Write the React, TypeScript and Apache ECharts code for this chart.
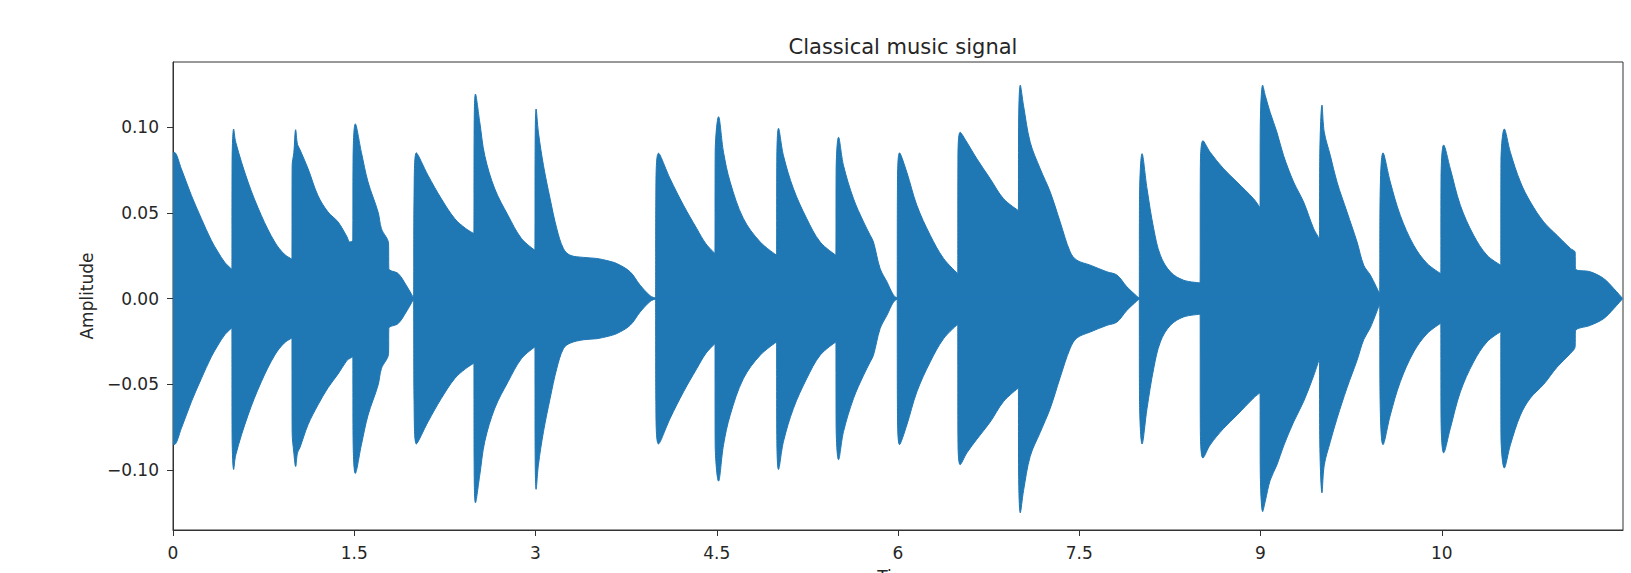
import React, { useEffect, useRef } from "react";
import * as echarts from "echarts";

// Tick positions and the labels printed under them (as in the reference)
const xTickValues = [0, 1.5, 3, 4.5, 6, 7.5, 9, 10.5];
const xTickLabels = ["0", "1.5", "3", "4.5", "6", "7.5", "9", "10"];
const yTickValues = [-0.1, -0.05, 0, 0.05, 0.1];
const yTickLabels = ["\u22120.10", "\u22120.05", "0.00", "0.05", "0.10"];

// Signal envelope: [time, upper amplitude, lower amplitude]
const signalEnvelope: [number, number, number][] = [
  // note 1
  [0, 0.085, -0.085], [0.01, 0.0853, -0.0852], [0.069, 0.0757, -0.0757], [0.152, 0.0602, -0.0602],
  [0.235, 0.0466, -0.0466], [0.317, 0.034, -0.034], [0.372, 0.0272, -0.0272], [0.43, 0.021, -0.021],
  [0.487, 0.0171, -0.0171],
  // note 2
  [0.489, 0.08, -0.08], [0.502, 0.0989, -0.0997], [0.52, 0.091, -0.091], [0.621, 0.068, -0.068],
  [0.731, 0.0485, -0.0485], [0.842, 0.033, -0.033], [0.92, 0.026, -0.026], [0.984, 0.023, -0.023],
  // note 3
  [0.986, 0.0776, -0.078], [1.0, 0.085, -0.09], [1.015, 0.0985, -0.098], [1.03, 0.09, -0.09],
  [1.05, 0.087, -0.087], [1.118, 0.0757, -0.0735], [1.2, 0.06, -0.062], [1.283, 0.0505, -0.052],
  [1.366, 0.0447, -0.044], [1.44, 0.036, -0.036], [1.462, 0.033, -0.035], [1.488, 0.034, -0.034],
  // note 4
  [1.49, 0.08, -0.08], [1.509, 0.1019, -0.102], [1.559, 0.0853, -0.0853], [1.614, 0.068, -0.068],
  [1.697, 0.0505, -0.0505], [1.725, 0.0408, -0.0408], [1.784, 0.032, -0.032], [1.786, 0.0175, -0.0175],
  [1.863, 0.0146, -0.0146], [1.93, 0.0078, -0.0078], [1.99, 0.0005, -0.0005],
  // note 5
  [1.995, 0.06, -0.06], [2.014, 0.085, -0.0848], [2.111, 0.0718, -0.0718], [2.221, 0.0582, -0.0582],
  [2.332, 0.0466, -0.0466], [2.42, 0.041, -0.041], [2.49, 0.0379, -0.0377],
  // note 6
  [2.492, 0.095, -0.095], [2.503, 0.1193, -0.1191], [2.539, 0.1028, -0.1028], [2.58, 0.0834, -0.0834],
  [2.663, 0.064, -0.064], [2.773, 0.0485, -0.0485], [2.884, 0.035, -0.035], [2.995, 0.0282, -0.0282],
  // note 7
  [2.997, 0.09, -0.09], [3.005, 0.1106, -0.1113], [3.024, 0.097, -0.097], [3.066, 0.0776, -0.0776],
  [3.121, 0.0582, -0.0582], [3.176, 0.0408, -0.0408], [3.231, 0.0292, -0.0292], [3.286, 0.0253, -0.026],
  [3.4, 0.024, -0.024], [3.507, 0.0234, -0.0234], [3.6, 0.022, -0.022], [3.673, 0.0204, -0.0204],
  [3.783, 0.0156, -0.0156], [3.866, 0.0078, -0.0078], [3.948, 0.0017, -0.0017], [3.993, 0.0002, -0.0002],
  // note 8
  [3.996, 0.06, -0.06], [4.018, 0.0848, -0.0848], [4.114, 0.0699, -0.0699], [4.225, 0.0544, -0.0544],
  [4.335, 0.0408, -0.0408], [4.41, 0.032, -0.032], [4.485, 0.0263, -0.0263],
  // note 9
  [4.487, 0.085, -0.085], [4.515, 0.1061, -0.1065], [4.556, 0.0853, -0.0853], [4.611, 0.068, -0.068],
  [4.721, 0.0466, -0.0466], [4.86, 0.033, -0.033], [4.995, 0.0253, -0.0253],
  // note 10
  [4.997, 0.08, -0.08], [5.011, 0.0993, -0.0997], [5.052, 0.0834, -0.0834], [5.135, 0.064, -0.064],
  [5.245, 0.0466, -0.0466], [5.356, 0.033, -0.033], [5.486, 0.0253, -0.0253],
  // note 11
  [5.488, 0.075, -0.075], [5.508, 0.0941, -0.094], [5.549, 0.0776, -0.0776], [5.632, 0.0582, -0.0582],
  [5.715, 0.0447, -0.0447], [5.77, 0.0369, -0.0369], [5.797, 0.033, -0.033], [5.852, 0.0175, -0.0175],
  [5.908, 0.0098, -0.0098], [5.963, 0.002, -0.002], [5.993, 0.0003, -0.0003],
  // note 12
  [5.995, 0.06, -0.06], [6.013, 0.085, -0.0852], [6.073, 0.0737, -0.0737], [6.156, 0.0544, -0.0544],
  [6.267, 0.0369, -0.0369], [6.377, 0.0234, -0.0234], [6.494, 0.0146, -0.015],
  // note 13
  [6.496, 0.08, -0.08], [6.515, 0.097, -0.0969], [6.57, 0.0912, -0.09], [6.653, 0.0815, -0.082],
  [6.763, 0.0699, -0.072], [6.874, 0.0582, -0.06], [6.996, 0.0514, -0.0522],
  // note 14
  [6.998, 0.1, -0.1], [7.012, 0.1245, -0.125], [7.039, 0.1125, -0.112], [7.094, 0.0912, -0.092],
  [7.177, 0.0757, -0.078], [7.26, 0.0621, -0.064], [7.342, 0.0447, -0.046], [7.425, 0.0272, -0.029],
  [7.48, 0.0224, -0.023], [7.591, 0.0195, -0.0195], [7.729, 0.0156, -0.0156], [7.812, 0.0137, -0.0137],
  [7.894, 0.0069, -0.0069], [7.996, 0.0002, -0.0002],
  // note 15
  [7.999, 0.06, -0.06], [8.02, 0.0845, -0.0848], [8.061, 0.064, -0.064], [8.116, 0.0408, -0.0408],
  [8.171, 0.0253, -0.0253], [8.254, 0.0156, -0.0156], [8.364, 0.0107, -0.0107], [8.5, 0.0092, -0.0092],
  // note 16
  [8.502, 0.075, -0.075], [8.524, 0.0921, -0.093], [8.584, 0.0853, -0.0853], [8.695, 0.0757, -0.0757],
  [8.805, 0.068, -0.068], [8.943, 0.0582, -0.058], [8.996, 0.053, -0.055],
  // note 17
  [8.998, 0.1, -0.1], [9.018, 0.1245, -0.1243], [9.04, 0.1183, -0.118], [9.08, 0.1086, -0.106],
  [9.136, 0.097, -0.097], [9.191, 0.0834, -0.086], [9.274, 0.068, -0.072], [9.357, 0.0563, -0.06],
  [9.44, 0.0408, -0.045], [9.488, 0.035, -0.035],
  // note 18
  [9.49, 0.08, -0.08], [9.509, 0.1129, -0.1133], [9.528, 0.097, -0.097], [9.578, 0.0834, -0.0834],
  [9.633, 0.068, -0.07], [9.716, 0.0505, -0.052], [9.799, 0.033, -0.036], [9.854, 0.0195, -0.024],
  [9.909, 0.0137, -0.017], [9.985, 0.003, -0.0035],
  // note 19
  [9.99, 0.06, -0.06], [10.014, 0.085, -0.0852], [10.074, 0.068, -0.068], [10.157, 0.0485, -0.0485],
  [10.268, 0.0311, -0.0311], [10.378, 0.0205, -0.0205], [10.492, 0.0146, -0.0144],
  // note 20
  [10.494, 0.07, -0.07], [10.516, 0.0896, -0.09], [10.571, 0.0757, -0.0757], [10.654, 0.0544, -0.0544],
  [10.764, 0.0369, -0.0369], [10.874, 0.0253, -0.0253], [10.988, 0.0195, -0.0193],
  // note 21
  [10.99, 0.08, -0.08], [11.018, 0.0989, -0.0988], [11.068, 0.0853, -0.0853], [11.151, 0.068, -0.068],
  [11.234, 0.0563, -0.058], [11.344, 0.0447, -0.05], [11.454, 0.0369, -0.04], [11.565, 0.0292, -0.032],
  [11.604, 0.027, -0.028], [11.606, 0.0175, -0.019], [11.73, 0.0156, -0.0156], [11.84, 0.0117, -0.0117],
  [11.923, 0.0059, -0.0059], [11.995, 0.0002, -0.0002],
];

const zeroLine: [number, number][] = [
  [0, 0],
  [11.995, 0],
];

const TITLE = "Classical music signal";
const X_NAME = "Time";
const Y_NAME = "Amplitude";

const BLUE = "#1f77b4";
const INK = "#262626";
const FONT = "DejaVu Sans";

export default function App() {
  const ref = useRef<HTMLDivElement>(null);

  useEffect(() => {
    if (!ref.current) return;
    const chart = echarts.init(ref.current, undefined, { renderer: "svg" });

    const upper = signalEnvelope.map((d) => [d[0], d[1]]);
    const lower = signalEnvelope.map((d) => [d[0], d[2]]);

    const envSeries = (data: number[][]) => ({
      type: "line",
      data,
      symbol: "none",
      smooth: 0.35,
      lineStyle: { color: BLUE, width: 1 },
      areaStyle: { color: BLUE, opacity: 1 },
      silent: true,
    });

    chart.setOption({
      animation: false,
      backgroundColor: "#ffffff",
      title: {
        text: TITLE,
        left: 898,
        textAlign: "center",
        top: 31,
        textStyle: { fontFamily: FONT, fontSize: 21, fontWeight: "normal", color: INK },
      },
      grid: {
        left: 173,
        right: 8,
        top: 62,
        bottom: 43,
        show: true,
        borderColor: "#333",
        borderWidth: 1,
        backgroundColor: "transparent",
        outerBoundsMode: "none",
        containLabel: false,
      },
      xAxis: {
        type: "value",
        min: 0,
        max: 12,
        name: X_NAME,
        nameLocation: "middle",
        nameGap: 38,
        nameTextStyle: { fontFamily: FONT, fontSize: 17, color: INK },
        axisLine: { show: true, onZero: false, lineStyle: { color: "#333", width: 1 } },
        axisTick: {
          show: true,
          length: 6,
          customValues: xTickValues,
          lineStyle: { color: "#333", width: 1 },
        },
        axisLabel: {
          customValues: xTickValues,
          margin: 14,
          fontFamily: FONT,
          fontSize: 17,
          color: INK,
          formatter: (v: number) => {
            const i = xTickValues.findIndex((t) => Math.abs(t - v) < 1e-9);
            return i >= 0 ? xTickLabels[i] : "";
          },
        },
        splitLine: { show: false },
      },
      yAxis: {
        type: "value",
        min: -0.135,
        max: 0.138,
        name: Y_NAME,
        nameLocation: "middle",
        nameRotate: 90,
        nameGap: 78,
        nameTextStyle: { fontFamily: FONT, fontSize: 17, color: INK },
        axisLine: { show: true, onZero: false, lineStyle: { color: "#333", width: 1 } },
        axisTick: {
          show: true,
          length: 6,
          customValues: yTickValues,
          lineStyle: { color: "#333", width: 1 },
        },
        axisLabel: {
          customValues: yTickValues,
          margin: 14,
          fontFamily: FONT,
          fontSize: 17,
          color: INK,
          formatter: (v: number) => {
            const i = yTickValues.findIndex((t) => Math.abs(t - v) < 1e-9);
            return i >= 0 ? yTickLabels[i] : "";
          },
        },
        splitLine: { show: false },
      },
      series: [
        envSeries(upper),
        envSeries(lower),
        {
          type: "line",
          data: zeroLine,
          symbol: "none",
          lineStyle: { color: BLUE, width: 2 },
          silent: true,
        },
      ],
    });

    return () => chart.dispose();
  }, []);

  return (
    <div
      ref={ref}
      style={{ position: "fixed", left: 0, top: 0, width: 1631, height: 573, background: "#fff" }}
    />
  );
}
